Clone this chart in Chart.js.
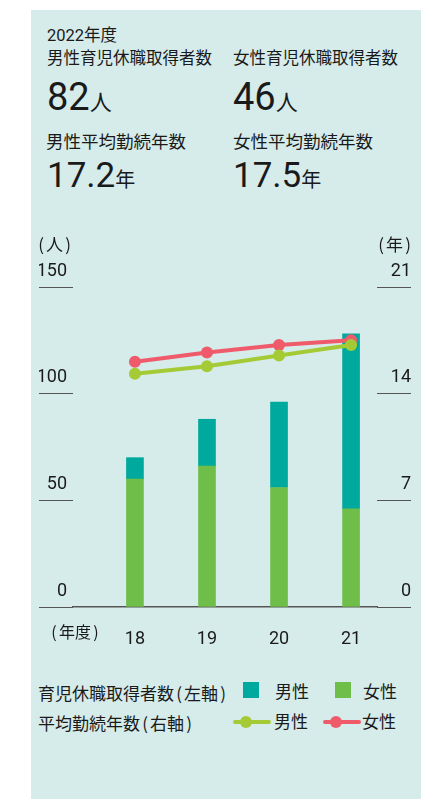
<!DOCTYPE html>
<html>
<head>
<meta charset="utf-8">
<script src="https://cdn.jsdelivr.net/npm/chart.js@4.4.0/dist/chart.umd.min.js"></script>
<style>
  body { margin: 0; background: #fff; font-family: Roboto, "Noto Sans CJK JP", sans-serif; color: #1a1a1a; }
  #panel { position: absolute; left: 31px; top: 10px; width: 390px; height: 789px; background: #d6ecea; }
  .t { position: absolute; white-space: nowrap; line-height: 1; }
  .big { font-size: 38px; }
  .big small { font-size: 22px; }
  .mid { font-size: 35px; }
  .mid small { font-size: 20px; }
  .p { display: inline-block; width: 10px; text-align: center; font-family: "Noto Sans CJK JP", sans-serif; }
  #chart { position: absolute; left: 0; top: 220px; }
  .sq { position: absolute; width: 16px; height: 16px; }
  .ln { position: absolute; height: 4px; border-radius: 2px; }
  .dot { position: absolute; width: 12px; height: 12px; border-radius: 50%; }
</style>
</head>
<body>
<div id="panel">
  <div class="t" style="left:16px;top:18px;font-size:16.5px">2022年度</div>
  <div class="t" style="left:16px;top:41px;font-size:16.5px">男性育児休職取得者数</div>
  <div class="t" style="left:202px;top:41px;font-size:16.5px">女性育児休職取得者数</div>
  <div class="t big" style="left:16px;top:68px">82<small>人</small></div>
  <div class="t big" style="left:202px;top:68px">46<small>人</small></div>
  <div class="t" style="left:15px;top:124px;font-size:17.5px">男性平均勤続年数</div>
  <div class="t" style="left:202px;top:124px;font-size:17.5px">女性平均勤続年数</div>
  <div class="t mid" style="left:16px;top:148px">17.2<small>年</small></div>
  <div class="t mid" style="left:202px;top:148px">17.5<small>年</small></div>

  <canvas id="chart" width="390" height="420"></canvas>

  <div class="t" style="left:5px;top:225px;font-size:17px"><span class="p">(</span>人<span class="p">)</span></div>
  <div class="t" style="right:8px;top:225px;font-size:17px"><span class="p">(</span>年<span class="p">)</span></div>
  <div class="t" style="left:18px;top:613px;font-size:16px"><span class="p">(</span>年度<span class="p">)</span></div>

  <div class="t" style="left:7px;top:674px;font-size:17px">育児休職取得者数<span class="p">(</span>左軸<span class="p">)</span></div>
  <div class="sq" style="left:212px;top:672px;background:#00a99d"></div>
  <div class="t" style="left:244px;top:674px;font-size:17px">男性</div>
  <div class="sq" style="left:304px;top:672px;background:#6fbe4a"></div>
  <div class="t" style="left:332px;top:674px;font-size:17px">女性</div>

  <div class="t" style="left:7px;top:704px;font-size:17px">平均勤続年数<span class="p">(</span>右軸<span class="p">)</span></div>
  <div class="ln" style="left:202px;top:710px;width:38px;background:#a4cb35"></div>
  <div class="dot" style="left:209px;top:706px;background:#a4cb35"></div>
  <div class="t" style="left:243px;top:704px;font-size:17px">男性</div>
  <div class="ln" style="left:292px;top:710px;width:38px;background:#ef5b6b"></div>
  <div class="dot" style="left:299px;top:706px;background:#ef5b6b"></div>
  <div class="t" style="left:331px;top:704px;font-size:17px">女性</div>
</div>

<script>
// 年度
const years = [18, 19, 20, 21];
// 育児休職取得者数（人）
const leaveMale = [10, 22, 40, 82];
const leaveFemale = [60, 66, 56, 46];
// 平均勤続年数（年）
const tenureMale = [15.3, 15.8, 16.5, 17.2];
const tenureFemale = [16.1, 16.7, 17.2, 17.5];
// 目盛り
const leftTicks = [0, 50, 100, 150];
const rightTicks = [0, 7, 14, 21];

const TEAL = '#00a99d';
const GREEN = '#6fbe4a';
const LIME = '#a4cb35';
const RED = '#ef5b6b';
const INK = '#1a1a1a';
const RULE = '#555';

Chart.defaults.font.family = 'Roboto, "Noto Sans CJK JP", sans-serif';
Chart.defaults.color = INK;

const pts = (ys) => years.map((x, i) => ({ x: x, y: ys[i] }));

const ctx = document.getElementById('chart').getContext('2d');
new Chart(ctx, {
  type: 'bar',
  data: {
    datasets: [
      { type: 'bar', label: '女性', data: pts(leaveFemale), backgroundColor: GREEN, yAxisID: 'y', barThickness: 17, order: 3 },
      { type: 'bar', label: '男性', data: pts(leaveMale), backgroundColor: TEAL, yAxisID: 'y', barThickness: 17, order: 3 },
      { type: 'line', label: '女性', data: pts(tenureFemale), borderColor: RED, backgroundColor: RED,
        yAxisID: 'y1', borderWidth: 4, pointRadius: 6, pointBorderWidth: 0, order: 2 },
      { type: 'line', label: '男性', data: pts(tenureMale), borderColor: LIME, backgroundColor: LIME,
        yAxisID: 'y1', borderWidth: 4, pointRadius: 6, pointBorderWidth: 0, order: 1 }
    ]
  },
  options: {
    responsive: false,
    animation: false,
    devicePixelRatio: 1,
    layout: { padding: { left: 8, right: 10, top: 57, bottom: 0 } },
    plugins: { legend: { display: false }, tooltip: { enabled: false } },
    scales: {
      x: {
        type: 'linear', min: 17.14, max: 21.36, stacked: true, offset: false,
        grid: { display: false },
        border: { color: RULE, width: 1.5 },
        ticks: { font: { size: 18 }, color: INK, padding: 14 },
        afterBuildTicks: (s) => { s.ticks = years.map(v => ({ value: v })); },
        afterFit: (s) => { s.height = 43; }
      },
      y: {
        position: 'left', stacked: true, min: 0, max: 150,
        grid: { drawOnChartArea: false, drawTicks: true, tickLength: 34, color: RULE, lineWidth: 1 },
        border: { display: false },
        ticks: { font: { size: 18 }, color: INK, padding: -28, labelOffset: -16 },
        afterBuildTicks: (s) => { s.ticks = leftTicks.map(v => ({ value: v })); },
        afterFit: (s) => { s.width = 34; }
      },
      y1: {
        position: 'right', min: 0, max: 21,
        grid: { drawOnChartArea: false, drawTicks: true, tickLength: 34, color: RULE, lineWidth: 1 },
        border: { display: false },
        ticks: { font: { size: 18 }, color: INK, padding: -22, labelOffset: -16, crossAlign: 'far' },
        afterBuildTicks: (s) => { s.ticks = rightTicks.map(v => ({ value: v })); },
        afterFit: (s) => { s.width = 34; }
      }
    }
  }
});
</script>
</body>
</html>
